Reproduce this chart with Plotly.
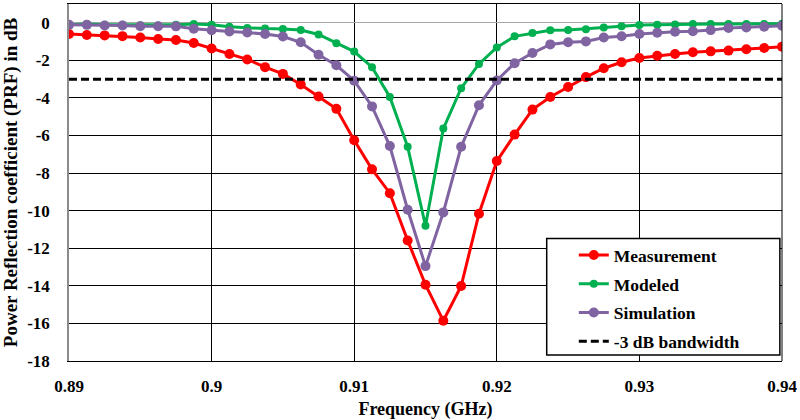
import plotly.graph_objects as go

# Frequency points (GHz), 1.25 MHz step
freq = [0.89 + 0.00125 * i for i in range(41)]

measurement = [-0.60, -0.65, -0.67, -0.71, -0.78, -0.86, -0.92, -1.08, -1.37, -1.66,
               -1.95, -2.36, -2.72, -3.28, -3.92, -4.58, -6.25, -7.80, -9.07, -11.59,
               -13.94, -15.86, -14.01, -10.16, -7.36, -5.95, -4.62, -3.95, -3.42, -2.89,
               -2.42, -2.10, -1.87, -1.75, -1.66, -1.57, -1.52, -1.48, -1.41, -1.34, -1.27]

modeled = [-0.11, -0.07, -0.11, -0.11, -0.13, -0.14, -0.11, -0.07, -0.10, -0.21,
           -0.28, -0.31, -0.33, -0.38, -0.62, -1.09, -1.53, -2.36, -3.95, -6.60,
           -10.80, -5.63, -3.48, -2.19, -1.31, -0.72, -0.55, -0.40, -0.39, -0.34,
           -0.25, -0.18, -0.12, -0.11, -0.09, -0.07, -0.07, -0.07, -0.06, -0.06, -0.05]

simulation = [-0.11, -0.11, -0.14, -0.14, -0.18, -0.18, -0.19, -0.32, -0.40, -0.46,
              -0.52, -0.60, -0.73, -1.04, -1.70, -2.26, -3.08, -4.45, -6.56, -9.95,
              -12.95, -10.09, -6.60, -4.39, -3.07, -2.15, -1.61, -1.15, -1.04, -0.99,
              -0.78, -0.72, -0.60, -0.53, -0.48, -0.45, -0.39, -0.28, -0.25, -0.21, -0.16]

bandwidth_x = [0.89, 0.94]
bandwidth_y = [-3, -3]

xtick_vals = [0.89, 0.90, 0.91, 0.92, 0.93, 0.94]
xtick_text = ["0.89", "0.9", "0.91", "0.92", "0.93", "0.94"]
ytick_vals = [0, -2, -4, -6, -8, -10, -12, -14, -16, -18]
ytick_text = ["0", "-2", "-4", "-6", "-8", "-10", "-12", "-14", "-16", "-18"]

FONT = "Liberation Serif"

fig = go.Figure()
fig.add_trace(go.Scatter(x=freq, y=measurement, mode="lines+markers", name="Measurement",
                         line=dict(color="#FF0000", width=3), marker=dict(size=10, color="#FF0000"),
                         legendgroup="a"))
fig.add_trace(go.Scatter(x=freq, y=modeled, mode="lines+markers", name="Modeled",
                         line=dict(color="#00B050", width=3), marker=dict(size=8, color="#00B050"),
                         legendgroup="b"))
fig.add_trace(go.Scatter(x=freq, y=simulation, mode="lines+markers", name="Simulation",
                         line=dict(color="#8064A2", width=3), marker=dict(size=10, color="#8064A2"),
                         legendgroup="c"))
fig.add_trace(go.Scatter(x=bandwidth_x, y=bandwidth_y, mode="lines", name="-3 dB bandwidth",
                         line=dict(color="black", width=3, dash="8px,4px"),
                         legendgroup="d"))

# legend box
fig.add_shape(type="rect", xref="paper", yref="paper", x0=0.670, x1=0.997, y0=0.017, y1=0.343,
              line=dict(color="black", width=1.5), fillcolor="white", layer="above")
# right border
fig.add_shape(type="line", xref="paper", yref="paper", x0=1, x1=1, y0=0, y1=1,
              line=dict(color="black", width=1))

fig.update_layout(
    width=800, height=420,
    margin=dict(l=69, r=18, t=3, b=58),
    paper_bgcolor="white", plot_bgcolor="white",
    font=dict(family=FONT, size=17, color="black", weight="bold"),
    legend=dict(x=0.708, y=0.347, xanchor="left", yanchor="top",
                bgcolor="rgba(0,0,0,0)", borderwidth=0, tracegroupgap=3,
                font=dict(family=FONT, size=17.5, color="black", weight="bold")),
    xaxis=dict(range=[0.89, 0.94], tickvals=xtick_vals, ticktext=xtick_text,
               showgrid=True, gridcolor="black", gridwidth=1.2,
               showline=True, linecolor="black", linewidth=1, mirror=True,
               zeroline=False, ticks="", ticklabelstandoff=10,
               tickfont=dict(family=FONT, size=17, weight="bold"),
               title=dict(text="Frequency (GHz)", font=dict(family=FONT, size=18, weight="bold"),
                          standoff=8)),
    yaxis=dict(range=[-18, 1], tickvals=ytick_vals, ticktext=ytick_text,
               showgrid=True, gridcolor="black", gridwidth=1.2,
               showline=True, linecolor="#8c8c8c", linewidth=1.5,
               zeroline=True, zerolinecolor="#a6a6a6", zerolinewidth=1,
               ticks="", ticklabelstandoff=14,
               tickfont=dict(family=FONT, size=17, weight="bold"),
               title=dict(text="Power Reflection coefficient (PRF) in dB",
                          font=dict(family=FONT, size=19, weight="bold"), standoff=6)),
)

fig.write_html("out.html", config={"displayModeBar": False},
               post_script="document.body.style.margin='0';document.body.style.padding='0';")
